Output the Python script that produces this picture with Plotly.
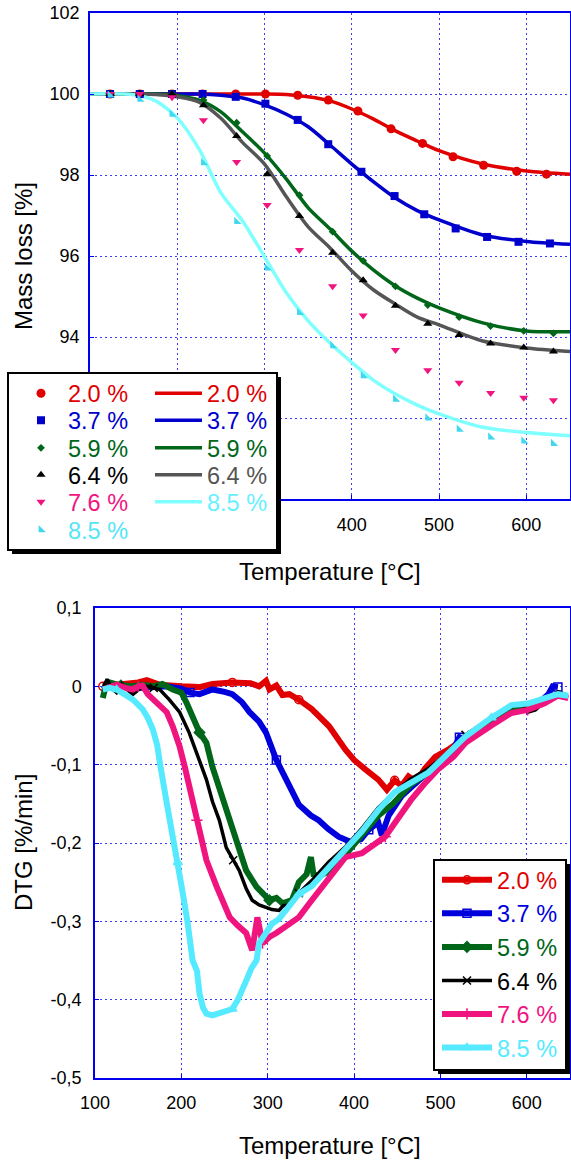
import plotly.graph_objects as go

# ---------------- data: TGA (top) ----------------
labels = ["2.0 %", "3.7 %", "5.9 %", "6.4 %", "7.6 %", "8.5 %"]

# fitted curves (temperature grid)
T_line = [100, 150, 175, 200, 225, 250, 275, 300, 325, 350, 375, 400, 425, 450, 475, 500, 550, 600, 650]
red_line = [100, 100, 100, 100, 100, 100, 100, 100, 99.99, 99.93, 99.83, 99.63, 99.38, 99.09, 98.84, 98.60, 98.27, 98.10, 98.02]
blue_line = [100, 100, 100, 100, 100, 99.97, 99.90, 99.73, 99.50, 99.19, 98.74, 98.27, 97.83, 97.43, 97.12, 96.89, 96.52, 96.36, 96.29]
green_line = [100, 100, 100, 99.96, 99.85, 99.56, 99.06, 98.54, 97.90, 97.19, 96.67, 96.12, 95.65, 95.26, 94.96, 94.72, 94.35, 94.15, 94.13]
gray_line = [100, 100, 99.99, 99.93, 99.80, 99.40, 98.80, 98.27, 97.46, 96.72, 96.20, 95.63, 95.16, 94.81, 94.49, 94.30, 93.90, 93.73, 93.64]
cyan_line = [100, 99.98, 99.83, 99.41, 98.64, 97.56, 96.86, 95.98, 95.09, 94.40, 93.85, 93.37, 92.93, 92.59, 92.32, 92.10, 91.77, 91.64, 91.56]

# measured points
T_red = [123, 157, 194, 229, 267, 301, 338, 373, 407, 445, 481, 516, 551, 589, 623]
T_blue = [123, 157, 194, 229, 267, 301, 338, 373, 411, 449, 483, 519, 555, 591, 627]
T_pts = [123, 157, 194, 230, 268, 303, 340, 378, 413, 450, 487, 523, 559, 597, 631]
red_pts = [100, 100, 100, 100, 100, 100, 99.97, 99.85, 99.58, 99.14, 98.78, 98.45, 98.24, 98.09, 98.02]
blue_pts = [100, 100, 100, 100, 99.93, 99.76, 99.36, 98.76, 98.08, 97.48, 97.03, 96.68, 96.47, 96.35, 96.31]
green_pts = [100, 100, 100, 99.85, 99.29, 98.47, 97.50, 96.60, 95.88, 95.25, 94.79, 94.49, 94.27, 94.15, 94.09]
black_pts = [100, 100, 100, 99.72, 98.96, 98.02, 96.99, 96.08, 95.40, 94.77, 94.33, 94.05, 93.84, 93.74, 93.64]
pink_pts = [100, 100, 99.92, 99.35, 98.32, 97.26, 96.15, 95.25, 94.53, 93.68, 93.18, 92.87, 92.62, 92.50, 92.44]
cyan_pts = [99.97, 99.87, 99.50, 98.30, 96.85, 95.70, 94.60, 93.78, 93.04, 92.46, 92.00, 91.72, 91.53, 91.43, 91.37]

mass_ticks = [90, 92, 94, 96, 98, 100, 102]
mass_ticktext = ["", "", "94", "96", "98", "100", "102"]      # 90/92 sit under the legend box
temp_ticks = [100, 200, 300, 400, 500, 600]
temp_ticktext_top = ["", "", "", "400", "500", "600"]         # 100-300 sit under the legend box
temp_ticktext = ["100", "200", "300", "400", "500", "600"]

# ---------------- data: DTG (bottom) ----------------
dtg_red_T = [109, 130, 150, 160, 175, 200, 221, 236, 259, 280, 290, 298, 302, 310, 317, 325, 336, 351, 371, 390, 400, 413, 428, 438, 447, 455, 463, 472, 482, 494, 510, 530, 560, 582, 601, 620, 636, 644]
dtg_red = [0, 0.002, 0.005, 0.008, 0.002, 0, -0.001, 0.003, 0.005, 0.004, 0, 0.007, -0.004, 0.001, -0.011, -0.01, -0.017, -0.029, -0.051, -0.081, -0.094, -0.106, -0.119, -0.132, -0.12, -0.127, -0.115, -0.122, -0.105, -0.09, -0.08, -0.065, -0.043, -0.028, -0.027, -0.02, -0.01, -0.012]

dtg_blue_T = [109, 130, 150, 170, 183, 200, 210, 221, 236, 250, 259, 270, 279, 290, 298, 310, 321, 336, 350, 359, 370, 382, 397, 408, 417, 428, 432, 440, 455, 470, 486, 501, 515, 522, 530, 545, 559, 582, 600, 615, 625, 630, 636]
dtg_blue = [0, 0, -0.002, 0, 0, -0.003, -0.008, -0.01, -0.004, -0.007, -0.01, -0.02, -0.033, -0.045, -0.059, -0.094, -0.119, -0.151, -0.165, -0.171, -0.182, -0.192, -0.199, -0.195, -0.183, -0.174, -0.19, -0.165, -0.14, -0.125, -0.11, -0.094, -0.08, -0.065, -0.07, -0.055, -0.042, -0.027, -0.024, -0.02, -0.01, 0, -0.001]

dtg_green_T = [109, 113, 117, 130, 144, 155, 167, 178, 190, 200, 206, 213, 221, 229, 236, 244, 252, 264, 275, 287, 295, 302, 310, 317, 328, 336, 345, 350, 353, 360, 371, 390, 409, 428, 445, 466, 486, 501, 529, 559, 582, 601, 620, 636, 644]
dtg_green = [-0.015, 0.003, 0.005, 0.001, 0, 0.002, 0, 0.003, -0.004, -0.008, -0.021, -0.038, -0.059, -0.072, -0.103, -0.13, -0.158, -0.2, -0.235, -0.256, -0.265, -0.273, -0.27, -0.277, -0.273, -0.25, -0.24, -0.218, -0.24, -0.242, -0.236, -0.215, -0.19, -0.165, -0.15, -0.125, -0.11, -0.096, -0.067, -0.045, -0.03, -0.028, -0.02, -0.01, -0.012]

dtg_black_T = [109, 114, 119, 125, 131, 137, 144, 152, 160, 168, 175, 186, 198, 209, 221, 229, 236, 244, 252, 260, 267, 275, 282, 290, 298, 305, 313, 318, 325, 336, 351, 370, 390, 410, 428, 447, 466, 486, 501, 529, 559, 582, 595, 601, 610, 620, 636, 644]
dtg_black = [-0.003, 0.009, -0.002, -0.008, 0.003, -0.004, -0.01, -0.003, 0, -0.002, -0.004, -0.017, -0.033, -0.059, -0.094, -0.119, -0.147, -0.171, -0.206, -0.222, -0.235, -0.258, -0.273, -0.279, -0.282, -0.285, -0.286, -0.28, -0.279, -0.264, -0.248, -0.225, -0.205, -0.18, -0.155, -0.135, -0.118, -0.105, -0.092, -0.062, -0.04, -0.025, -0.022, -0.033, -0.03, -0.02, -0.007, -0.01]

dtg_pink_T = [109, 117, 125, 135, 144, 150, 155, 161, 171, 183, 190, 198, 204, 211, 218, 229, 241, 256, 265, 275, 282, 286, 288, 294, 302, 310, 325, 336, 351, 370, 390, 409, 436, 450, 466, 481, 497, 515, 529, 559, 582, 601, 620, 636, 648]
dtg_pink = [-0.004, 0, 0.002, -0.002, -0.004, 0, 0.001, -0.01, -0.021, -0.033, -0.051, -0.077, -0.103, -0.135, -0.171, -0.222, -0.256, -0.295, -0.305, -0.315, -0.337, -0.31, -0.295, -0.328, -0.32, -0.315, -0.303, -0.295, -0.273, -0.245, -0.218, -0.213, -0.192, -0.17, -0.145, -0.125, -0.106, -0.09, -0.072, -0.05, -0.034, -0.03, -0.022, -0.012, -0.015]

dtg_cyan_T = [109, 117, 125, 135, 144, 155, 161, 167, 172, 175, 178, 184, 190, 196, 201, 207, 213, 218, 221, 225, 229, 236, 244, 252, 259, 265, 270, 275, 281, 287, 290, 297, 305, 313, 321, 336, 351, 371, 390, 409, 428, 447, 466, 486, 501, 529, 559, 582, 601, 620, 636, 648]
dtg_cyan = [-0.004, -0.002, -0.004, -0.01, -0.017, -0.029, -0.04, -0.055, -0.075, -0.097, -0.119, -0.155, -0.192, -0.225, -0.26, -0.3, -0.35, -0.363, -0.392, -0.41, -0.418, -0.42, -0.417, -0.414, -0.412, -0.401, -0.39, -0.376, -0.36, -0.35, -0.328, -0.315, -0.303, -0.297, -0.286, -0.265, -0.255, -0.23, -0.208, -0.185, -0.158, -0.135, -0.123, -0.11, -0.094, -0.064, -0.04, -0.024, -0.022, -0.016, -0.01, -0.012]

dtg_ticks = [-0.5, -0.4, -0.3, -0.2, -0.1, 0, 0.1]
dtg_ticktext = ["-0,5", "-0,4", "-0,3", "-0,2", "-0,1", "0", "0,1"]

# ---------------- styling / layout helpers ----------------
FONT = "Liberation Sans, Arial, sans-serif"
W, H = 571, 1162
ML, MR, MT, MB = 90, 1, 13, 84
PW = W - ML - MR
PH = H - MT - MB


def pxx(px):
    """screen x (reference pixels) -> paper x"""
    return (px - ML) / PW


def pxy(py):
    """screen y (reference pixels) -> paper y"""
    return (H - MB - py) / PH


RED, BLUE, GREEN, BLACK, GRAY, PINK = "#e00000", "#0000cc", "#006619", "#000000", "#555555", "#f0147f"
CYAN_M, CYAN_L, CYAN_D = "#3fd8ee", "#80ffff", "#55eaff"
AX = "#0000ee"
GRID = "#3c3cff"

fig = go.Figure()

# ---- top: fitted lines ----
top_lines = [
    (red_line, RED, "2.0 %"),
    (blue_line, BLUE, "3.7 %"),
    (green_line, GREEN, "5.9 %"),
    (gray_line, GRAY, "6.4 %"),
    (cyan_line, CYAN_L, "8.5 %"),
]
for j, (vals, col, name) in enumerate(top_lines):
    fig.add_trace(go.Scatter(
        x=T_line, y=vals, mode="lines", name=name,
        line=dict(color=col, width=3.5, shape="spline", smoothing=0.8),
        xaxis="x", yaxis="y", legend=f"legend{8 + j}", hoverinfo="skip"))

# ---- top: measured markers ----
top_pts = [
    (T_red, red_pts, RED, "circle", 9),
    (T_blue, blue_pts, BLUE, "square", 8),
    (T_pts, green_pts, GREEN, "diamond", 6),
    (T_pts, black_pts, BLACK, "triangle-up", 8),
    (T_pts, pink_pts, PINK, "triangle-down", 8),
    (T_pts, cyan_pts, CYAN_M, "triangle-sw", 8),
]
for i, (tx, vals, col, sym, sz) in enumerate(top_pts):
    fig.add_trace(go.Scatter(
        x=tx, y=vals, mode="markers", name=labels[i],
        marker=dict(symbol=sym, size=sz, color=col, line=dict(width=0)),
        xaxis="x", yaxis="y", legend=f"legend{2 + i}", hoverinfo="skip"))

# ---- bottom: DTG ----
dtg = [
    (dtg_red_T, dtg_red, RED, "circle-open", 6),
    (dtg_blue_T, dtg_blue, "#0000dd", "square-open", 6),
    (dtg_green_T, dtg_green, GREEN, "diamond", 6),
    (dtg_black_T, dtg_black, BLACK, "x-thin-open", 3.5),
    (dtg_pink_T, dtg_pink, PINK, "cross-thin-open", 6),
    (dtg_cyan_T, dtg_cyan, CYAN_D, "triangle-up-open", 6),
]
for i, (tx, vals, col, sym, lw) in enumerate(dtg):
    fig.add_trace(go.Scatter(
        x=tx, y=vals, mode="lines+markers",
        name=f"<span style='color:{col}'>{labels[i]}</span>",
        line=dict(color=col, width=lw),
        marker=dict(symbol=sym, size=8, color=col, maxdisplayed=5,
                    line=dict(color=col, width=1.5)),
        xaxis="x2", yaxis="y2", legend="legend", hoverinfo="skip"))


def axis(**kw):
    d = dict(showline=True, linecolor=AX, linewidth=1.5, mirror=True,
             showgrid=True, gridcolor=GRID, griddash="2px,3px", gridwidth=1,
             ticks="inside", ticklen=4, tickwidth=1, tickcolor=AX,
             zeroline=False, fixedrange=True, automargin=False, ticklabeloverflow="allow",
             tickfont=dict(size=18, color="black", family=FONT))
    d.update(kw)
    return d


layout = dict(
    width=W, height=H,
    margin=dict(l=ML, r=MR, t=MT, b=MB, autoexpand=False),
    paper_bgcolor="white", plot_bgcolor="white",
    font=dict(family=FONT, color="black"),
    xaxis=axis(range=[100, 650], tickvals=temp_ticks, ticktext=temp_ticktext_top,
               domain=[0, 1], anchor="y", ticklabelstandoff=9),
    yaxis=axis(range=[90, 102], tickvals=mass_ticks, ticktext=mass_ticktext,
               domain=[pxy(499), 1], anchor="x", ticklabelstandoff=5),
    xaxis2=axis(range=[100, 650], tickvals=temp_ticks, ticktext=temp_ticktext,
                domain=[pxx(95), 1], anchor="y2", ticklabelstandoff=8),
    yaxis2=axis(range=[-0.5, 0.1], tickvals=dtg_ticks, ticktext=dtg_ticktext, domain=[0, pxy(608)],
                anchor="x2", ticklabelstandoff=8),
    showlegend=True,
)

leg_base = dict(bgcolor="rgba(0,0,0,0)", borderwidth=0, xref="paper", yref="paper",
                orientation="v", xanchor="left")

row_y = [393.5, 420.5, 448, 475, 502, 530]
pt_cols = [RED, BLUE, GREEN, BLACK, PINK, "#55e5f5"]
for i in range(6):
    layout[f"legend{2 + i}"] = dict(leg_base, x=pxx(14), y=pxy(row_y[i]), yanchor="middle",
                                    itemwidth=44, font=dict(size=23.5, family=FONT, color=pt_cols[i]))
ln_cols = [RED, BLUE, GREEN, GRAY, "#66f0ff"]
for j in range(5):
    layout[f"legend{8 + j}"] = dict(leg_base, x=pxx(150), y=pxy(row_y[j]), yanchor="middle",
                                    itemwidth=47, font=dict(size=23.5, family=FONT, color=ln_cols[j]))
layout["legend"] = dict(leg_base, x=pxx(437), y=pxy(858), yanchor="top", itemwidth=50,
                        font=dict(size=23.5, family=FONT, color="black"))

shapes = []
for (x0, y0, x1, y1) in [(8, 373, 277, 550), (434, 860, 566, 1070)]:
    shapes.append(dict(type="rect", xref="paper", yref="paper", layer="above",
                       x0=pxx(x0 + 4), x1=pxx(x1 + 4), y0=pxy(y1 + 4), y1=pxy(y0 + 4),
                       fillcolor="black", line=dict(width=0)))
    shapes.append(dict(type="rect", xref="paper", yref="paper", layer="above",
                       x0=pxx(x0), x1=pxx(x1), y0=pxy(y1), y1=pxy(y0),
                       fillcolor="white", line=dict(color="black", width=2)))
layout["shapes"] = shapes

title_font = dict(size=24, family=FONT, color="black")
layout["annotations"] = [
    dict(text="Mass loss [%]", xref="paper", yref="paper", x=pxx(23), y=pxy(256), textangle=-90,
         showarrow=False, xanchor="center", yanchor="middle", font=title_font),
    dict(text="Temperature [°C]", xref="paper", yref="paper", x=pxx(330), y=pxy(571),
         showarrow=False, xanchor="center", yanchor="middle", font=title_font),
    dict(text="DTG [%/min]", xref="paper", yref="paper", x=pxx(23), y=pxy(843), textangle=-90,
         showarrow=False, xanchor="center", yanchor="middle", font=title_font),
    dict(text="Temperature [°C]", xref="paper", yref="paper", x=pxx(330), y=pxy(1145),
         showarrow=False, xanchor="center", yanchor="middle", font=title_font),
]

fig.update_layout(**layout)
fig.write_html("out.html", config={"displayModeBar": False},
               post_script="document.body.style.margin='0px';")
